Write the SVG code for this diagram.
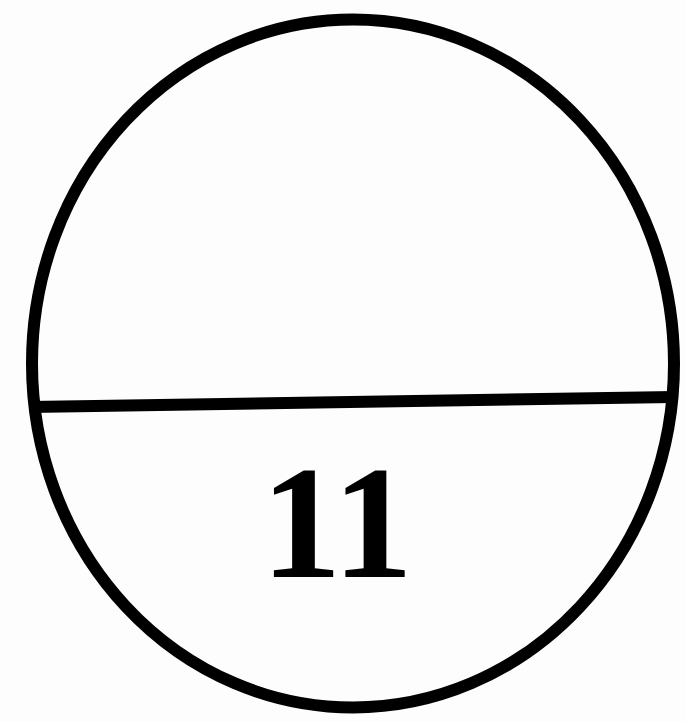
<svg xmlns="http://www.w3.org/2000/svg" width="685" height="722" viewBox="0 0 685 722">
<style>
.s{fill:none;stroke:#000;stroke-width:12}
.t{font-family:"Liberation Serif","Times New Roman",serif;font-weight:bold;font-size:161px;fill:#000}
</style>
<rect width="685" height="722" fill="#fcfdfc"/>
<g id="node-circle">
<ellipse class="s" cx="353" cy="363.5" rx="321" ry="344"/>
<line class="s" x1="30" y1="407" x2="674" y2="397"/>
<text class="t" x="337" y="577" text-anchor="middle">11</text>
</g>
<g id="connectors"></g>
</svg>
